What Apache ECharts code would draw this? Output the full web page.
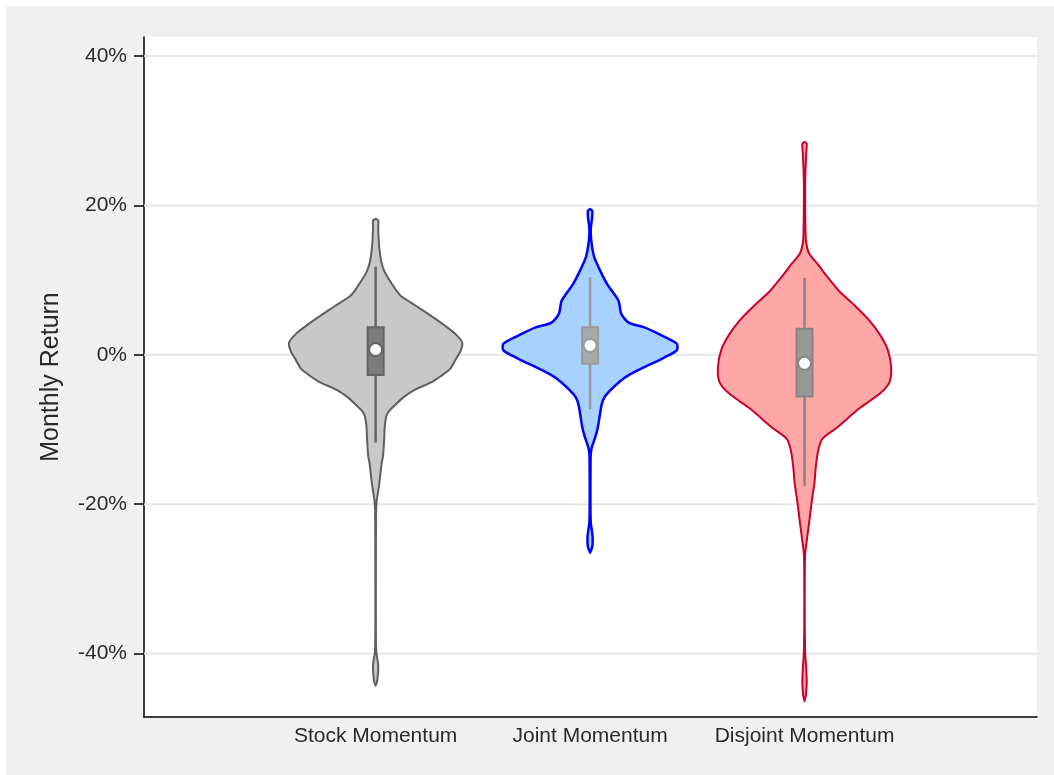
<!DOCTYPE html>
<html>
<head>
<meta charset="utf-8">
<title>Monthly Return by Momentum Strategy</title>
<script src="https://cdn.jsdelivr.net/npm/echarts@6/dist/echarts.min.js"></script>
<style>
  html, body { margin: 0; padding: 0; background: #ffffff; }
  #chart { position: absolute; left: 6px; top: 6px; width: 1048px; height: 769px; }
</style>
</head>
<body>
<div id="chart"></div>
<script>
// ---- data -------------------------------------------------------------
const categories = ['Stock Momentum', 'Joint Momentum', 'Disjoint Momentum'];
const yTicks = [-40, -20, 0, 20, 40];

// Kernel density outlines: [monthly return in %, relative density (1 = widest)]
const stockDensity = [
  [18.2, 0], [18.0, 0.03], [17.0, 0.03], [15.5, 0.035], [14.0, 0.045], [12.5, 0.065],
  [11.2, 0.1], [9.9, 0.165], [8.6, 0.24], [7.8, 0.3], [6.6, 0.46], [5.2, 0.64],
  [3.9, 0.8], [2.8, 0.92], [1.6, 1.0], [0.5, 0.98], [-0.5, 0.93], [-1.9, 0.86],
  [-2.8, 0.76], [-3.7, 0.64], [-4.7, 0.45], [-5.7, 0.32], [-6.8, 0.22], [-7.6, 0.15],
  [-8.4, 0.12], [-9.7, 0.105], [-11.0, 0.1], [-12.4, 0.093], [-13.6, 0.085], [-14.5, 0.07],
  [-16.0, 0.055], [-17.5, 0.04], [-18.6, 0.025], [-19.6, 0.012], [-21.0, 0.006], [-25.0, 0.004],
  [-32.0, 0.003], [-38.0, 0.004], [-40.0, 0.01], [-41.5, 0.03], [-43.0, 0.025], [-44.0, 0.012],
  [-44.3, 0]
];
const jointDensity = [
  [19.5, 0], [19.3, 0.025], [18.5, 0.025], [17.6, 0.015], [16.8, 0.008], [15.8, 0.01],
  [14.9, 0.018], [14.0, 0.03], [13.0, 0.05], [11.3, 0.115], [9.5, 0.195], [8.1, 0.28],
  [7.2, 0.33], [5.5, 0.36], [4.3, 0.445], [3.7, 0.62], [2.8, 0.79], [1.5, 1.0],
  [0.6, 1.0], [-0.4, 0.85], [-1.7, 0.62], [-2.6, 0.465], [-3.5, 0.35], [-4.8, 0.23],
  [-5.7, 0.165], [-6.6, 0.135], [-7.9, 0.115], [-9.7, 0.09], [-11.1, 0.058], [-12.4, 0.02],
  [-13.3, 0.008], [-15.0, 0.005], [-20.0, 0.004], [-22.5, 0.008], [-23.5, 0.02], [-24.5, 0.03],
  [-25.7, 0.025], [-26.5, 0]
];
const disjointDensity = [
  [28.5, 0], [28.3, 0.025], [27.0, 0.02], [25.0, 0.012], [22.6, 0.007], [19.0, 0.008],
  [16.5, 0.012], [15.1, 0.018], [13.6, 0.052], [12.2, 0.147], [10.2, 0.28], [8.4, 0.41],
  [6.7, 0.57], [4.7, 0.74], [2.7, 0.87], [0.7, 0.96], [-1.7, 1.0], [-3.7, 0.98],
  [-5.2, 0.87], [-7.2, 0.63], [-9.7, 0.38], [-11.2, 0.21], [-12.7, 0.16], [-15.0, 0.13],
  [-17.1, 0.115], [-19.5, 0.085], [-22.1, 0.057], [-24.6, 0.029], [-26.6, 0.008], [-29.0, 0.003],
  [-36.0, 0.003], [-40.0, 0.008], [-42.0, 0.02], [-44.0, 0.025], [-45.6, 0.015], [-46.4, 0]
];

// Box-plot summaries (%)
const medians     = [0.7, 1.25, -1.15];
const q1          = [-2.7, -1.2, -5.6];
const q3          = [3.7, 3.7, 3.5];
const whiskerLow  = [-11.75, -7.3, -17.6];
const whiskerHigh = [11.8, 10.4, 10.3];

// ---- styling ----------------------------------------------------------
const FONT = "'Liberation Sans', Arial, Helvetica, sans-serif";
const TEXT_COLOR = '#2a2a2a';
const HALF_WIDTH = 0.404;          // half violin width at density 1, in x units
const violinFill   = ['#c8c8c8', '#a7d1ff', '#ffa6a6'];
const violinStroke = ['#5f5f5f', '#0000ff', '#c8002e'];
const violinLineW  = [2, 2.5, 2];
const boxFill  = ['#7c7c7c', '#a9a9a9', '#979797'];
const boxEdge  = ['#646464', '#9a9a9a', '#858585'];
const BOX_PX = 16;

const densities = [stockDensity, jointDensity, disjointDensity];

function violinSeries(idx) {
  const dens = densities[idx];
  return {
    type: 'custom',
    coordinateSystem: 'cartesian2d',
    silent: true,
    z: 3,
    data: [[idx, medians[idx]]],
    encode: { x: 0, y: 1 },
    renderItem: function (params, api) {
      const pts = [];
      for (let k = 0; k < dens.length; k++) {
        pts.push(api.coord([idx + dens[k][1] * HALF_WIDTH, dens[k][0]]));
      }
      for (let k = dens.length - 1; k >= 0; k--) {
        pts.push(api.coord([idx - dens[k][1] * HALF_WIDTH, dens[k][0]]));
      }
      return {
        type: 'polygon',
        shape: { points: pts, smooth: 0.25 },
        style: { fill: violinFill[idx], stroke: violinStroke[idx], lineWidth: violinLineW[idx], lineJoin: 'round' }
      };
    }
  };
}

const boxData = categories.map((c, i) => [i, q1[i], q3[i], medians[i], whiskerLow[i], whiskerHigh[i]]);

const boxSeries = {
  type: 'custom',
  coordinateSystem: 'cartesian2d',
  silent: true,
  z: 4,
  data: boxData,
  encode: { x: 0, y: [1, 2] },
  renderItem: function (params, api) {
    const i = api.value(0);
    const top = api.coord([i, api.value(2)]);
    const bot = api.coord([i, api.value(1)]);
    const med = api.coord([i, api.value(3)]);
    const wLo = api.coord([i, api.value(4)]);
    const wHi = api.coord([i, api.value(5)]);
    return {
      type: 'group',
      children: [
        { type: 'line', shape: { x1: wHi[0], y1: wHi[1], x2: wLo[0], y2: wLo[1] },
          style: { stroke: boxEdge[i], lineWidth: 2.5 } },
        { type: 'rect', shape: { x: top[0] - BOX_PX / 2, y: top[1], width: BOX_PX, height: bot[1] - top[1] },
          style: { fill: boxFill[i], stroke: boxEdge[i], lineWidth: 2 } },
        { type: 'circle', shape: { cx: med[0], cy: med[1], r: 6.5 },
          style: { fill: '#ffffff', stroke: boxEdge[i], lineWidth: 2 } }
      ]
    };
  }
};

// horizontal reference lines at the y tick values
const gridLineSeries = {
  type: 'custom',
  coordinateSystem: 'cartesian2d',
  silent: true,
  z: 1,
  data: yTicks.map(v => [0, v]),
  encode: { x: 0, y: 1 },
  renderItem: function (params, api) {
    const cs = params.coordSys;
    const p = api.coord([0, api.value(1)]);
    return {
      type: 'line',
      shape: { x1: cs.x, y1: p[1], x2: cs.x + cs.width, y2: p[1] },
      style: { stroke: '#e6e6e6', lineWidth: 2 }
    };
  }
};

const chart = echarts.init(document.getElementById('chart'), null, { renderer: 'canvas' });
chart.setOption({
  backgroundColor: '#f0f0f0',
  animation: false,
  grid: {
    left: 138, top: 31, right: 17, bottom: 58,
    show: true, backgroundColor: '#ffffff', borderWidth: 0
  },
  xAxis: {
    type: 'value',
    min: -1.08, max: 3.084,
    axisLine: { show: true, onZero: false, lineStyle: { color: '#000000', width: 1.5 } },
    axisTick: { show: false },
    splitLine: { show: false },
    axisLabel: {
      customValues: [0, 1, 2],
      formatter: v => categories[Math.round(v)],
      margin: 9, color: TEXT_COLOR, fontSize: 21, fontFamily: FONT
    }
  },
  yAxis: {
    type: 'value',
    min: -48.5, max: 42.55,
    name: 'Monthly Return',
    nameLocation: 'middle',
    nameGap: 80,
    nameTextStyle: { color: TEXT_COLOR, fontSize: 25, fontFamily: FONT },
    axisLine: { show: true, onZero: false, lineStyle: { color: '#000000', width: 1.5 } },
    axisTick: { show: true, length: 10, customValues: yTicks, lineStyle: { color: '#000000', width: 1.5 } },
    splitLine: { show: false },
    axisLabel: {
      customValues: yTicks,
      formatter: v => v + '%',
      margin: 17, color: TEXT_COLOR, fontSize: 21, fontFamily: FONT
    }
  },
  series: [gridLineSeries, violinSeries(0), violinSeries(1), violinSeries(2), boxSeries]
});
</script>
</body>
</html>
